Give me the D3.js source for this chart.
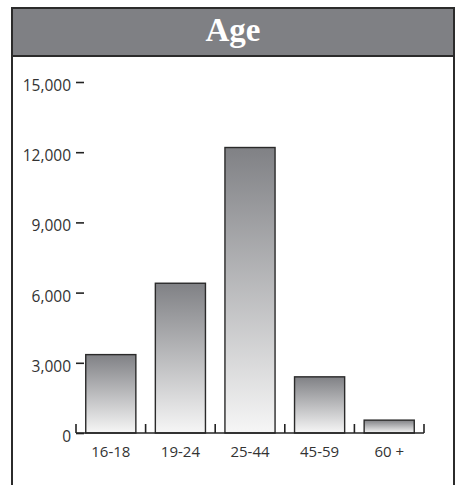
<!DOCTYPE html>
<html>
<head>
<meta charset="utf-8">
<script src="https://cdn.jsdelivr.net/npm/d3@7"></script>
<style>
  html, body { margin: 0; padding: 0; background: #fff; }
  svg { display: block; }
</style>
</head>
<body>
<svg id="chart" width="461" height="485"></svg>
<script>
// Age groups and counts
const categories = ["16-18", "19-24", "25-44", "45-59", "60 +"];
const values = [3350, 6400, 12200, 2400, 550];
const yTicks = [0, 3000, 6000, 9000, 12000, 15000];
const title = "Age";

const svg = d3.select("#chart");
const W = 461, H = 485;
const frame = { left: 12, right: 454, top: 8, headerBottom: 56 };

// bar fill gradient: dark grey at the top fading to near white
const defs = svg.append("defs");
const grad = defs.append("linearGradient")
  .attr("id", "barGrad")
  .attr("x1", 0).attr("y1", 0).attr("x2", 0).attr("y2", 1);
grad.append("stop").attr("offset", "0%").attr("stop-color", "#808185");
grad.append("stop").attr("offset", "100%").attr("stop-color", "#f6f6f6");

// header band
svg.append("rect")
  .attr("x", frame.left).attr("y", frame.top)
  .attr("width", frame.right - frame.left)
  .attr("height", frame.headerBottom - frame.top)
  .attr("fill", "#7f8084");

svg.append("text")
  .attr("x", (frame.left + frame.right) / 2)
  .attr("y", 41)
  .attr("text-anchor", "middle")
  .attr("font-family", "'Liberation Serif', 'DejaVu Serif', serif")
  .attr("font-weight", "bold")
  .attr("font-size", 33)
  .attr("fill", "#ffffff")
  .text(title);

// frame lines
const frameLine = (x1, y1, x2, y2) => svg.append("line")
  .attr("x1", x1).attr("y1", y1).attr("x2", x2).attr("y2", y2)
  .attr("stroke", "#2b2b2b").attr("stroke-width", 2);
frameLine(frame.left, frame.top, frame.right, frame.top);
frameLine(frame.left, frame.top - 1, frame.left, H);
frameLine(frame.right, frame.top - 1, frame.right, H);
frameLine(frame.left, frame.headerBottom, frame.right, frame.headerBottom);

// scales
const plot = { x0: 76, x1: 424, y0: 433, y1: 82 };
const x = d3.scaleBand()
  .domain(categories)
  .range([plot.x0, plot.x1])
  .paddingInner(0.28)
  .paddingOuter(0.14);
const y = d3.scaleLinear()
  .domain([0, 15000])
  .range([plot.y0, plot.y1]);

const fmt = d3.format(",");
const textColor = "#333333";
const fontFamily = "'Open Sans', 'Noto Sans', sans-serif";

// bars
svg.append("g")
  .selectAll("rect")
  .data(values)
  .join("rect")
  .attr("x", (d, i) => x(categories[i]))
  .attr("y", d => y(d))
  .attr("width", x.bandwidth())
  .attr("height", d => y(0) - y(d))
  .attr("fill", "url(#barGrad)")
  .attr("stroke", "#2a2a2a")
  .attr("stroke-width", 1.4);

// y axis: short dashes with labels to their left
const yAxis = d3.axisLeft(y)
  .tickValues(yTicks)
  .tickFormat(fmt)
  .tickSize(8)
  .tickPadding(5);
const gy = svg.append("g")
  .attr("transform", `translate(${plot.x0 + 8},0)`)
  .call(yAxis);
gy.select(".domain").remove();
gy.selectAll(".tick line").attr("stroke", "#222").attr("stroke-width", 1.6);
gy.selectAll(".tick text")
  .attr("dy", "0.55em")
  .attr("font-family", fontFamily)
  .attr("font-size", 15.5)
  .attr("fill", textColor);

// x axis: baseline, category labels, and upward ticks at band boundaries
const xAxis = d3.axisBottom(x).tickSize(0).tickPadding(13);
const gx = svg.append("g")
  .attr("transform", `translate(0,${plot.y0})`)
  .call(xAxis);
gx.select(".domain").remove();
gx.selectAll(".tick text")
  .attr("font-family", fontFamily)
  .attr("font-size", 15)
  .attr("fill", textColor);

svg.append("line")
  .attr("x1", plot.x0).attr("x2", plot.x1)
  .attr("y1", plot.y0).attr("y2", plot.y0)
  .attr("stroke", "#222").attr("stroke-width", 1.6);

const bounds = d3.range(categories.length + 1).map(i => plot.x0 + i * x.step());
svg.append("g")
  .selectAll("line")
  .data(bounds)
  .join("line")
  .attr("x1", d => d).attr("x2", d => d)
  .attr("y1", plot.y0).attr("y2", plot.y0 - 9)
  .attr("stroke", "#222").attr("stroke-width", 1.6);
</script>
</body>
</html>
